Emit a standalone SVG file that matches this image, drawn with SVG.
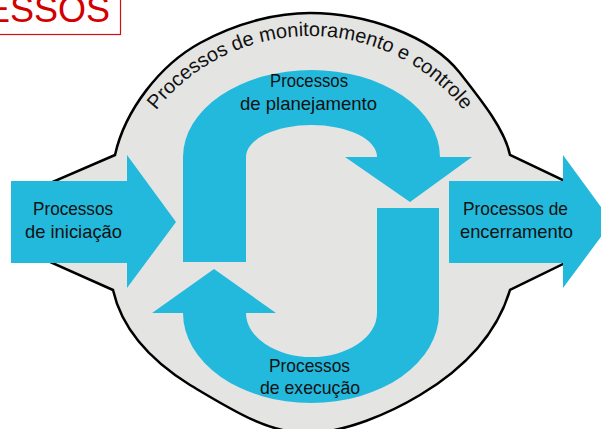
<svg xmlns="http://www.w3.org/2000/svg" width="601" height="429" viewBox="0 0 601 429">
<style>
.blue{fill:#23b9dc;}
.lbl{font-family:"Liberation Sans",Arial,sans-serif;font-size:18.5px;fill:#111;text-anchor:middle;}
.arc{font-family:"Liberation Sans",Arial,sans-serif;font-size:20px;fill:#111;}
</style>
<defs>
<path id="arcPath" d="M114,232 A196,196 0 0 1 506,232"/>
</defs>
<rect width="601" height="429" fill="#ffffff"/>
<g id="title">
<rect x="-2" y="-2" width="122.5" height="36.5" fill="#ffffff" stroke="#d01010" stroke-width="1.2"/>
<text x="110" y="22" font-family="Liberation Sans,Arial,sans-serif" font-size="36" fill="#d40000" text-anchor="end">ESSOS</text>
</g>
<g id="node-monitoring">
<path d="M115,155 C125,110 160,65 200,43 C240,21 280,13 310,13 C365,13 430,35 460,73 C482,101 505,130 510,155 L565,181 L565,263 L510,290 C498,330 470,365 420,395 C390,413 345,433 307,433 C268,433 232,410 190,385 C150,360 122,330 113,290 L50,262 L50,183 Z" fill="#e4e5e3" stroke="#000" stroke-width="2.5" stroke-linejoin="miter"/>
<text class="arc"><textPath href="#arcPath" startOffset="50%" text-anchor="middle">Processos de monitoramento e controle</textPath></text>
</g>
<g id="node-initiation">
<path class="blue" d="M11,181 L127,181 L127,155 L176,222 L127,288 L127,263 L11,263 Z"/>
<text class="lbl" x="73" y="215" textLength="80" lengthAdjust="spacingAndGlyphs">Processos</text>
<text class="lbl" x="73.5" y="238" textLength="97" lengthAdjust="spacingAndGlyphs">de iniciação</text>
</g>
<g id="node-planning">
<path class="blue" d="M183,262 L183,157 A128.5,87 0 0 1 440,157 L472,157 L410,202 L345,157 L377,157 A65.5,32 0 0 0 246,157 L246,262 Z"/>
<text class="lbl" x="309" y="87" textLength="78" lengthAdjust="spacingAndGlyphs">Processos</text>
<text class="lbl" x="308.5" y="110" textLength="137" lengthAdjust="spacingAndGlyphs">de planejamento</text>
</g>
<g id="node-execution">
<path class="blue" d="M377,208 L439,208 L439,313 A128,90 0 0 1 183,313 L152,313 L214,269 L276,313 L246,313 A65.5,44 0 0 0 377,313 Z"/>
<text class="lbl" x="309.5" y="372" textLength="81" lengthAdjust="spacingAndGlyphs">Processos</text>
<text class="lbl" x="310" y="394" textLength="100" lengthAdjust="spacingAndGlyphs">de execução</text>
</g>
<g id="node-closing">
<path class="blue" d="M449,181 L563,181 L563,155 L612,222 L563,288 L563,263 L449,263 Z"/>
<text class="lbl" x="515.5" y="215" textLength="105" lengthAdjust="spacingAndGlyphs">Processos de</text>
<text class="lbl" x="516.5" y="238" textLength="113" lengthAdjust="spacingAndGlyphs">encerramento</text>
</g>
<g id="connectors"></g>
</svg>
